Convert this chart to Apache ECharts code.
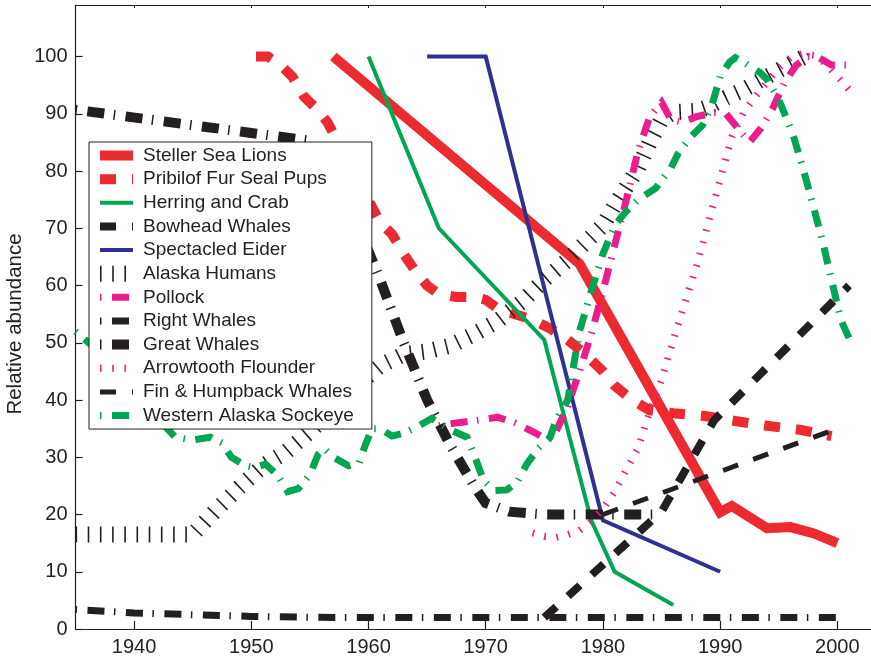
<!DOCTYPE html>
<html>
<head>
<meta charset="utf-8">
<script src="https://cdn.jsdelivr.net/npm/echarts@6/dist/echarts.min.js"></script>
<style>
  html, body { margin: 0; padding: 0; background: #ffffff; }
  #chart { width: 871px; height: 660px; }
</style>
</head>
<body>
<div id="chart"></div>
<script>
// Tick years shown on the time axis
const yearTicks = [1940, 1950, 1960, 1970, 1980, 1990, 2000];

// Relative abundance series, [year, value]
const stellerSeaLions = [[1957, 100], [1978, 63.8], [1990, 20.4], [1991, 21.5], [1994, 17.6], [1996, 17.8], [1998, 16.7], [2000, 15]];
const pribilofFurSealPups = [[1950.4, 100], [1951.4, 100], [1952.5, 98.5], [1953.5, 96.5], [1954.5, 93], [1955.5, 91], [1956.5, 88.5],
  [1961, 71], [1962, 69], [1963, 65.5], [1964, 62.5], [1965, 60], [1966, 58.5], [1967.5, 58], [1969, 58], [1970, 57.5], [1971, 56],
  [1972.5, 55], [1974, 54], [1975.5, 52.5], [1977, 50.5], [1978.5, 48], [1980, 45], [1981, 42.5], [1982.5, 40], [1984, 38.2],
  [1986, 37.7], [1988.7, 37.2], [1991.4, 36.3], [1994, 35.5], [1996.8, 34.8], [1999.5, 33.7]];
const herringAndCrab = [[1960, 100], [1966, 70], [1975, 50.5], [1979, 19], [1981, 10], [1986, 4.2]];
const bowheadWhales = [[1975, 2], [1985, 20.5], [1989.5, 36.5], [2001, 60]];
const spectacledEider = [[1965, 100], [1970, 100], [1980, 19], [1990, 10]];
const alaskaHumans = [[1935, 16.5], [1945, 16.5], [1947, 20.8], [1949, 24.8], [1951, 28.5], [1953, 31], [1955, 34.5], [1957, 38.3],
  [1959, 42.5], [1961, 46], [1963, 48], [1965, 48.5], [1967, 49.5], [1969, 51.5], [1971, 53.8], [1973, 57], [1975, 61], [1977, 64.5],
  [1978, 66.5], [1980, 70.5], [1981, 74], [1982, 77.2], [1983, 80.5], [1984, 85], [1985, 89], [1986, 90.3], [1988, 90.5], [1989, 91.2],
  [1990.5, 92.8], [1992, 94.2], [1994, 96.5], [1996, 98.7], [1997.8, 100.6]];
const pollock = [[1966, 35.5], [1967.5, 36], [1969.5, 36.5], [1971, 37], [1972.5, 36], [1974, 34.5], [1975.3, 33], [1976, 34.5],
  [1977, 39], [1978, 45], [1979, 51.5], [1980, 59], [1981, 67], [1982, 75], [1983, 83.5], [1984, 89.5], [1985, 92], [1985.8, 89],
  [1986.8, 88.5], [1988, 89.5], [1989.5, 90.2], [1990.5, 90], [1991.5, 87.5], [1992.5, 85], [1993.5, 87.5], [1994.5, 91],
  [1995.5, 95.5], [1996.5, 98.5], [1997.5, 100], [1998.5, 99.7], [1999.5, 98.5], [2001, 98.5]];
const rightWhales = [[1935, 3.4], [1940, 2.8], [1945, 2.5], [1950, 2.2], [1955, 2.05], [1960, 2], [2000, 2]];
const greatWhales = [[1935, 90.7], [1945, 88], [1955, 85.3], [1957, 81], [1959, 71], [1961, 61], [1963, 50], [1965, 40], [1967, 32],
  [1969, 25], [1970, 22], [1972, 20.5], [1975, 20], [1980, 20], [1985, 20]];
const arrowtoothFlounder = [[1974, 16.8], [1975, 16.2], [1976, 16], [1977, 16.5], [1978, 17.2], [1979, 18.8], [1980, 21], [1981, 24],
  [1982, 27.8], [1983, 31.6], [1984, 38], [1985, 43.5], [1986, 50.5], [1987, 57], [1988, 63.5], [1989, 71], [1990, 78.5], [1991, 86],
  [1992, 90.2], [1993, 93], [1994, 95.5], [1995, 98], [1996, 99.8], [1997, 100.5], [1998, 100.2], [1999, 98.8], [2000, 96.5], [2001, 94.2]];
const finHumpbackWhales = [[1980, 20], [2000, 35]];
const westernAlaskaSockeye = [[1935, 52], [1936.3, 49.7], [1943.5, 33.5], [1945, 33], [1946.5, 33.5], [1947.5, 32.5], [1948.3, 30],
  [1949.5, 28.5], [1950.3, 28.2], [1951.2, 28.8], [1952.2, 27], [1953.1, 24], [1954, 24.5], [1955, 27], [1955.7, 30.5], [1956.2, 31.5],
  [1957, 30], [1958.3, 28.5], [1959.2, 29], [1959.7, 32], [1960.3, 35], [1961, 35], [1962, 33.7], [1963, 34.2], [1964.3, 35.5],
  [1965.4, 36.8], [1966, 36], [1967.2, 34.6], [1968.4, 33.5], [1969, 30.5], [1969.8, 26], [1970.7, 24.2], [1971.8, 24.3], [1972.7, 25.7],
  [1973.5, 28.8], [1974.5, 31.6], [1975.5, 33.5], [1976, 36.5], [1977, 40], [1977.5, 46], [1978, 52], [1979, 59], [1980, 65.5],
  [1981, 70.5], [1982, 73], [1983, 75], [1984.5, 77], [1985.8, 80.5], [1986.4, 83], [1987.5, 86], [1988.5, 88], [1989.3, 91.5],
  [1990, 96.5], [1990.8, 99], [1991.3, 99.8], [1992, 99], [1993.4, 97.2], [1994, 96], [1995, 92.5], [1996.2, 86.5], [1997, 81],
  [1998, 73.5], [1998.8, 67.2], [1999.5, 61], [2000.3, 54], [2001, 50.8]];

// Colours and stroke patterns
const RED = '#ec2a2f', GREEN = '#00a651', BLUE = '#2e3192', MAGENTA = '#ec1c8c', BLACK = '#231f20';
const DASHED = [16, 16];
const DASH_DOT = [1.5, 10.5, 17, 9.5];
const TICKS = [1.6, 10.6];

const seriesDefs = [
  { name: 'Steller Sea Lions', data: stellerSeaLions, color: RED, width: 10, dash: 'solid' },
  { name: 'Pribilof Fur Seal Pups', data: pribilofFurSealPups, color: RED, width: 10, dash: DASHED },
  { name: 'Herring and Crab', data: herringAndCrab, color: GREEN, width: 4, dash: 'solid' },
  { name: 'Bowhead Whales', data: bowheadWhales, color: BLACK, width: 8, dash: DASHED },
  { name: 'Spectacled Eider', data: spectacledEider, color: BLUE, width: 4, dash: 'solid' },
  { name: 'Alaska Humans', data: alaskaHumans, color: BLACK, width: 16, dash: TICKS },
  { name: 'Pollock', data: pollock, color: MAGENTA, width: 7, dash: DASH_DOT },
  { name: 'Right Whales', data: rightWhales, color: BLACK, width: 7, dash: DASH_DOT },
  { name: 'Great Whales', data: greatWhales, color: BLACK, width: 10, dash: DASH_DOT },
  { name: 'Arrowtooth Flounder', data: arrowtoothFlounder, color: MAGENTA, width: 7, dash: TICKS },
  { name: 'Fin & Humpback Whales', data: finHumpbackWhales, color: BLACK, width: 5, dash: DASHED },
  { name: 'Western Alaska Sockeye', data: westernAlaskaSockeye, color: GREEN, width: 7, dash: DASH_DOT }
];

const FONT = '"Liberation Sans", Arial, Helvetica, sans-serif';
const plainYear = v => String(v);

const chart = echarts.init(document.getElementById('chart'), null, { renderer: 'canvas' });

chart.setOption({
  animation: false,
  backgroundColor: '#ffffff',
  grid: { left: 75.5, top: 5, width: 797, height: 624, containLabel: false, outerBoundsMode: 'none' },
  legend: {
    orient: 'vertical',
    left: 89,
    top: 142,
    selectedMode: false,
    backgroundColor: '#ffffff',
    borderColor: BLACK,
    borderWidth: 1,
    borderRadius: 0,
    padding: [4, 18, 4, 3],
    itemWidth: 33,
    itemHeight: 16,
    itemGap: 4.64,
    textStyle: { fontFamily: FONT, fontSize: 19, color: BLACK, padding: [0, 0, 0, 5] },
    data: seriesDefs.map(d => ({
      name: d.name,
      itemStyle: { opacity: 0 },
      lineStyle: { color: d.color, width: d.width, type: d.dash, cap: 'butt', dashOffset: 0 }
    }))
  },
  xAxis: [
    {
      type: 'value', position: 'bottom', min: 1935, max: 2003,
      axisLine: { show: true, lineStyle: { color: BLACK, width: 1.2 } },
      axisTick: { show: true, inside: true, length: 8, lineStyle: { color: BLACK, width: 1.2 }, customValues: yearTicks },
      axisLabel: { show: true, margin: 8, fontFamily: FONT, fontSize: 20, color: BLACK, customValues: yearTicks, formatter: plainYear },
      splitLine: { show: false }
    },
    {
      type: 'value', position: 'top', min: 1935, max: 2003,
      axisLine: { show: true, lineStyle: { color: BLACK, width: 1.2 } },
      axisTick: { show: true, inside: true, length: 3, lineStyle: { color: BLACK, width: 1 }, customValues: yearTicks },
      axisLabel: { show: false },
      splitLine: { show: false }
    }
  ],
  yAxis: {
    type: 'value', min: 0, max: 109, interval: 10,
    name: 'Relative abundance',
    nameLocation: 'middle',
    nameGap: 50,
    nameMoveOverlap: false,
    nameTextStyle: { fontFamily: FONT, fontSize: 20.5, color: BLACK, padding: [0, 14, 0, 0] },
    axisLine: { show: true, lineStyle: { color: BLACK, width: 1.2 } },
    axisTick: { show: true, inside: true, length: 7, lineStyle: { color: BLACK, width: 1.2 } },
    axisLabel: { margin: 8, fontFamily: FONT, fontSize: 20, color: BLACK, showMaxLabel: false },
    splitLine: { show: false }
  },
  series: seriesDefs.map(d => ({
    name: d.name,
    type: 'line',
    xAxisIndex: 0,
    data: d.data,
    symbol: 'none',
    showSymbol: false,
    clip: true,
    lineStyle: { color: d.color, width: d.width, type: d.dash, cap: 'butt', join: 'miter' },
    itemStyle: { color: d.color },
    emphasis: { disabled: true }
  }))
});
</script>
</body>
</html>
